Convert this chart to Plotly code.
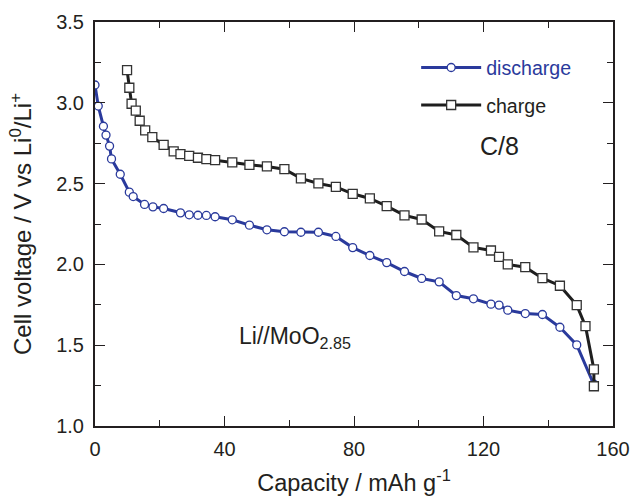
import plotly.graph_objects as go

# Discharge curve (capacity mAh/g, voltage V)
dis_cap = [0, 1.0, 2.6, 3.4, 4.5, 5.1, 7.8, 10.6, 11.8, 15.3, 17.9, 21.2, 26.4, 29.1, 31.8,
           34.4, 37.1, 42.4, 47.7, 53.1, 58.5, 63.6, 69.0, 74.4, 79.6, 84.9, 90.1, 95.6,
           100.9, 106.3, 111.6, 116.9, 122.3, 124.8, 127.5, 132.9, 138.2, 143.6, 148.8, 154.0]
dis_v = [3.11, 2.98, 2.855, 2.80, 2.732, 2.653, 2.558, 2.447, 2.42, 2.371, 2.356, 2.346, 2.319,
         2.307, 2.304, 2.303, 2.295, 2.276, 2.243, 2.214, 2.202, 2.199, 2.199, 2.173, 2.104,
         2.055, 2.011, 1.956, 1.913, 1.892, 1.807, 1.787, 1.754, 1.748, 1.717, 1.696, 1.690,
         1.611, 1.502, 1.26]

# Charge curve
ch_cap = [9.9, 10.6, 11.3, 12.6, 13.8, 15.5, 17.7, 21.2, 24.3, 26.4, 29.1, 31.8, 34.4, 37.1,
          42.4, 47.7, 53.1, 58.5, 63.6, 69.0, 74.4, 79.6, 84.9, 90.1, 95.6, 100.9, 106.3,
          111.6, 116.9, 122.3, 124.8, 127.5, 132.9, 138.2, 143.6, 148.8, 151.5, 154.1, 154.1]
ch_v = [3.202, 3.093, 2.994, 2.952, 2.889, 2.829, 2.787, 2.740, 2.699, 2.682, 2.672, 2.66,
        2.651, 2.645, 2.631, 2.616, 2.606, 2.589, 2.532, 2.501, 2.48, 2.437, 2.408, 2.36,
        2.303, 2.278, 2.204, 2.182, 2.105, 2.086, 2.047, 2.0, 1.983, 1.915, 1.868, 1.748,
        1.618, 1.35, 1.246]

x_ticks = [0, 40, 80, 120, 160]
y_ticks = [1.0, 1.5, 2.0, 2.5, 3.0, 3.5]

BLUE = "#2a3a9c"
DARK = "#1e1e1e"
TXT = "#231f20"
FONT = "Liberation Sans, Arial, sans-serif"

fig = go.Figure()
fig.add_trace(go.Scatter(
    x=dis_cap, y=dis_v, mode="lines+markers",
    name=f"<span style='color:{BLUE}'>discharge</span>",
    legendgroup="d",
    line=dict(color=BLUE, width=3),
    marker=dict(symbol="circle", size=8, color="white", line=dict(color=BLUE, width=1.3)),
))
fig.add_trace(go.Scatter(
    x=ch_cap, y=ch_v, mode="lines+markers",
    name="charge",
    legendgroup="c",
    line=dict(color=DARK, width=3),
    marker=dict(symbol="square", size=9, color="white", line=dict(color="#333333", width=1.3)),
))

axis_common = dict(
    showline=True, linecolor=TXT, linewidth=2, mirror="ticks",
    ticks="inside", ticklen=10, tickwidth=1.3, tickcolor=TXT,
    showgrid=False, zeroline=False, automargin=False,
    tickfont=dict(family=FONT, size=20, color=TXT),
)

fig.update_xaxes(
    range=[0, 160], tickvals=x_ticks, ticktext=[str(v) for v in x_ticks],
    minor=dict(dtick=20, ticks="inside", ticklen=6, tickcolor=TXT, tickwidth=1.3),
    ticklabelstandoff=4,
    title=dict(text="Capacity / mAh g<sup>-1</sup>", font=dict(family=FONT, size=23.5, color=TXT), standoff=17),
    **axis_common,
)
fig.update_yaxes(
    range=[1.0, 3.5], tickvals=y_ticks, ticktext=[f"{v:.1f}" for v in y_ticks],
    minor=dict(dtick=0.25, ticks="inside", ticklen=6, tickcolor=TXT, tickwidth=1.3),
    ticklabelstandoff=5,
    title=dict(text="Cell voltage / V vs Li<sup>0</sup>/Li<sup>+</sup>", font=dict(family=FONT, size=24, color=TXT), standoff=18),
    **axis_common,
)

fig.add_annotation(x=44.0, y=1.55, xref="x", yref="y", xanchor="left", yanchor="middle",
                   text="Li//MoO<sub>2.85</sub>", showarrow=False,
                   font=dict(family=FONT, size=23, color=TXT))
fig.add_annotation(x=124.8, y=2.73, xref="x", yref="y", xanchor="center", yanchor="middle",
                   text="C/8", showarrow=False,
                   font=dict(family=FONT, size=25, color=TXT))

fig.update_layout(
    width=633, height=496,
    margin=dict(l=95, r=20, t=22, b=70),
    paper_bgcolor="white", plot_bgcolor="white",
    legend=dict(x=0.62, y=0.935, xanchor="left", yanchor="top",
                bgcolor="rgba(0,0,0,0)", tracegroupgap=9, itemwidth=60,
                font=dict(family=FONT, size=19.6, color=TXT)),
)

fig.write_html("out.html")
